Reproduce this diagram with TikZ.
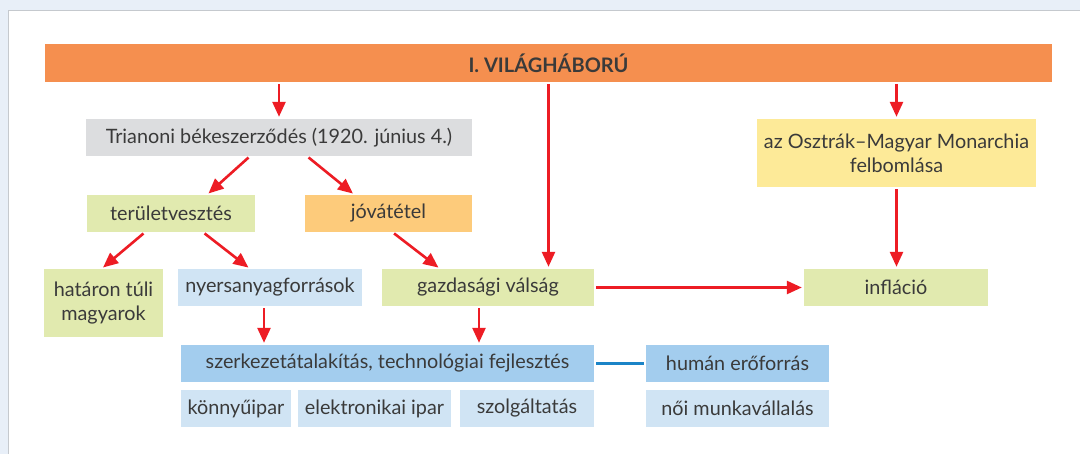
\documentclass[tikz,border=0pt]{standalone}
\usepackage{fontspec}
\setmainfont{Lato}
\usetikzlibrary{arrows.meta}
\definecolor{pagebg}{HTML}{E8EFF8}
\definecolor{panelline}{HTML}{C5C9CE}
\definecolor{warorange}{HTML}{F58F4F}
\definecolor{boxgray}{HTML}{DCDDDF}
\definecolor{boxgreen}{HTML}{E1EAAF}
\definecolor{boxorange}{HTML}{FDCB7B}
\definecolor{boxyellow}{HTML}{FDEA98}
\definecolor{boxlight}{HTML}{D0E4F4}
\definecolor{boxblue}{HTML}{A3CDEE}
\definecolor{arrred}{HTML}{ED1C24}
\definecolor{linkblue}{HTML}{1B84C7}
\definecolor{txt}{HTML}{3A3A3A}

\begin{document}
\begin{tikzpicture}[x=1pt, y=-1pt,
  box/.style={inner sep=0pt, minimum height=37pt, text=txt, font=\fontsize{19.8}{24}\selectfont, align=center},
  arr/.style={draw=arrred, line width=2.6pt, -{Triangle[length=15pt,width=13pt]}, shorten <=2pt, shorten >=2pt},
  link/.style={draw=linkblue, line width=2.6pt, shorten <=2pt, shorten >=2pt}]
\useasboundingbox (0,0) rectangle (1080,454);
\fill[pagebg] (0,0) rectangle (1080,454);
\filldraw[fill=white, draw=panelline, line width=1pt] (8,11) rectangle (1090,470);

\node (war) [box, fill=warorange, minimum width=1007pt, minimum height=38pt, font=\fontsize{20}{24}\selectfont\bfseries] at (548.5,63) {I. VILÁGHÁBORÚ};
\node (trianon) [box, fill=boxgray, minimum width=386pt] at (279,137.5) {Trianoni békeszerződés (1920. június 4.)};
\node (terulet) [box, fill=boxgreen, minimum width=168pt] at (171,213.5) {területvesztés};
\node (jovatetel) [box, fill=boxorange, minimum width=167pt] at (388.5,213.5) {jóvátétel};
\node (hataron) [box, fill=boxgreen, minimum width=119pt, minimum height=68pt] at (103.5,303) {határon túli\\magyarok};
\node (nyersanyag) [box, fill=boxlight, minimum width=184pt] at (270,287.5) {nyersanyagforrások};
\node (valsag) [box, fill=boxgreen, minimum width=212pt] at (488,287.5) {gazdasági válság};
\node (szerkezet) [box, fill=boxblue, minimum width=413pt] at (387.5,363.5) {szerkezetátalakítás, technológiai fejlesztés};
\node (konnyu) [box, fill=boxlight, minimum width=110pt] at (236,408.5) {könnyűipar};
\node (elektron) [box, fill=boxlight, minimum width=153pt] at (374.5,408.5) {elektronikai ipar};
\node (szolg) [box, fill=boxlight, minimum width=134pt] at (527,408.5) {szolgáltatás};
\node (human) [box, fill=boxblue, minimum width=183pt] at (737.5,363.5) {humán erőforrás};
\node (noi) [box, fill=boxlight, minimum width=183pt] at (737.5,408.5) {női munkavállalás};
\node (inflacio) [box, fill=boxgreen, minimum width=184pt] at (896,287.5) {infláció};
\node (monarchia) [box, fill=boxyellow, minimum width=279pt, minimum height=68pt] at (896.5,153) {az Osztrák–Magyar Monarchia\\felbomlása};

\draw[arr] (war.south -| trianon.north) -- (trianon.north); \draw[arr] (war.south) -- (war.south |- valsag.north); \draw[arr] (war.south -| monarchia.north) -- (monarchia.north);
\draw[arr] ([xshift=-29pt]trianon.south) -- ([xshift=36pt]terulet.north); \draw[arr] ([xshift=28pt]trianon.south) -- ([xshift=-34pt]jovatetel.north);
\draw[arr] ([xshift=-26pt]terulet.south) -- ([xshift=-2pt]hataron.north); \draw[arr] ([xshift=32pt]terulet.south) -- ([xshift=-20pt]nyersanyag.north);
\draw[arr] ([xshift=4pt]jovatetel.south) -- ([xshift=-48pt]valsag.north);
\draw[arr] ([xshift=-6pt]nyersanyag.south) -- ([xshift=-6pt]nyersanyag.south |- szerkezet.north); \draw[arr] ([xshift=-9pt]valsag.south) -- ([xshift=-9pt]valsag.south |- szerkezet.north);
\draw[arr] (valsag.east) -- (inflacio.west); \draw[arr] (monarchia.south) -- (monarchia.south |- inflacio.north);
\draw[link] (szerkezet.east) -- (human.west);

\end{tikzpicture}
\end{document}
